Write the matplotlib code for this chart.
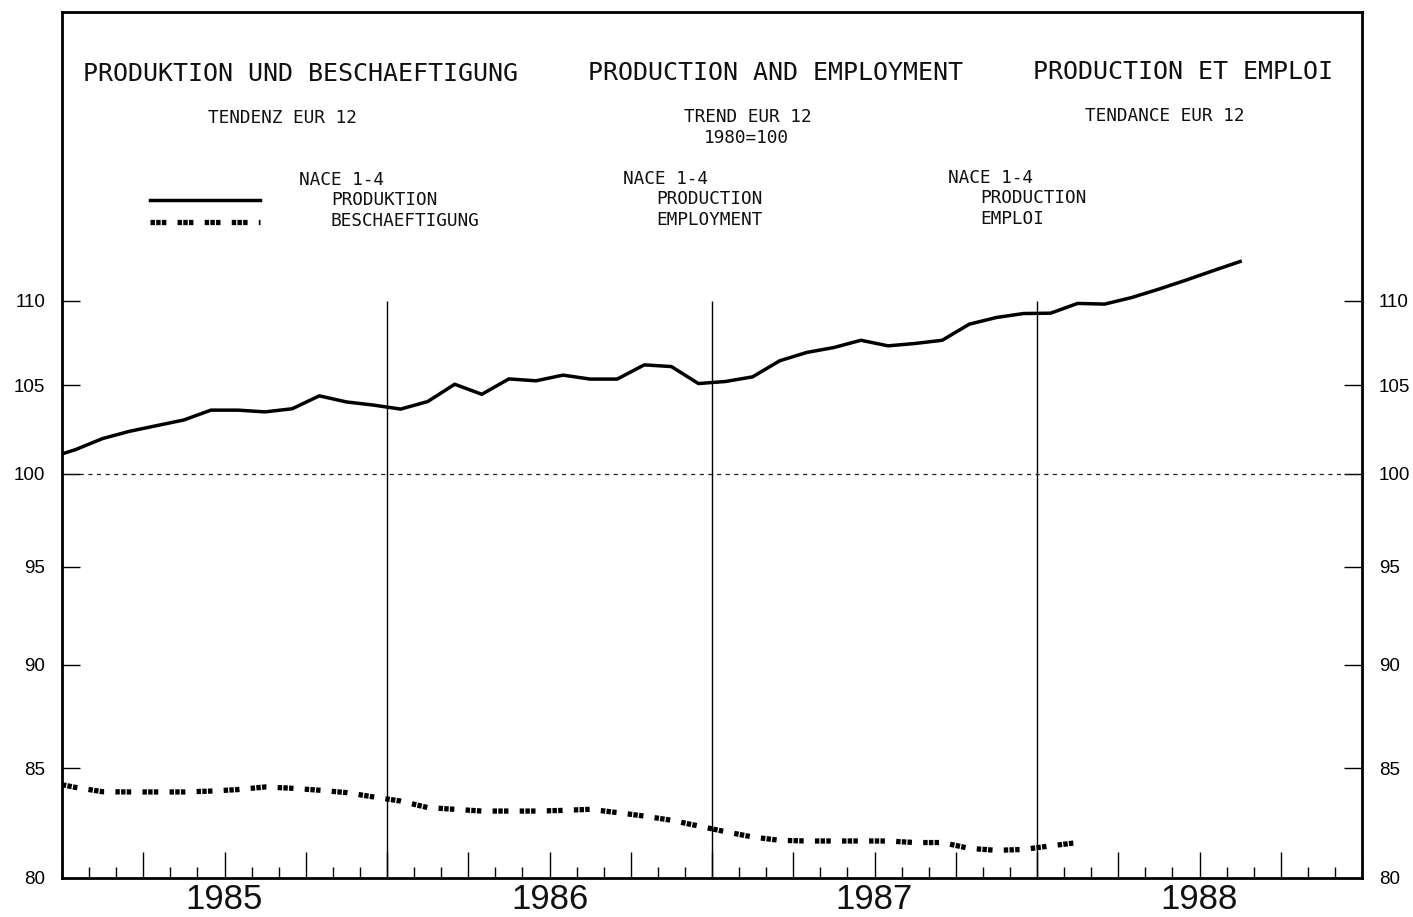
import matplotlib
matplotlib.use("Agg")
import matplotlib.pyplot as plt
import matplotlib.transforms as mtransforms
from matplotlib.lines import Line2D
from matplotlib.ticker import NullLocator, FixedLocator
import numpy as np

plt.rcParams["lines.scale_dashes"] = False

# ---------------- data (monthly trend, 1980=100) ----------------
# first value = Dec 1984, then Jan 1985 ... Aug 1988
production = [100.85,
              101.33, 101.95, 102.36, 102.68, 103.00, 103.56, 103.56, 103.46, 103.64, 104.38, 104.03, 103.85,
              103.62, 104.05, 105.05, 104.47, 105.36, 105.25, 105.58, 105.35, 105.35, 106.18, 106.08, 105.09,
              105.21, 105.48, 106.42, 106.91, 107.20, 107.63, 107.30, 107.44, 107.63, 108.59, 108.99, 109.23,
              109.25, 109.84, 109.80, 110.20, 110.71, 111.26, 111.84, 112.41]
# first value = Dec 1984, then Jan 1985 ... Feb 1988
employment = [84.35,
              84.10, 83.90, 83.89, 83.89, 83.89, 83.93, 84.00, 84.12, 84.06, 83.97, 83.86, 83.66,
              83.47, 83.17, 83.09, 83.01, 83.01, 83.01, 83.04, 83.09, 82.94, 82.78, 82.59, 82.33,
              82.07, 81.83, 81.68, 81.65, 81.65, 81.65, 81.65, 81.58, 81.58, 81.32, 81.23, 81.27,
              81.43, 81.58]
years = ["1985", "1986", "1987", "1988"]
yticks = [80, 85, 90, 95, 100, 105, 110]
ytick_labels = ["80", "85", "90", "95", "100", "105", "110"]

# ---------------- figure ----------------
W, H = 1413, 917
fig = plt.figure(figsize=(W / 100, H / 100), dpi=100)
fig.patch.set_facecolor("white")
ax = fig.add_axes([62 / W, (H - 878) / H, (1362 - 62) / W, (878 - 12) / H])

x_prod = np.arange(len(production)) - 0.5
x_emp = np.arange(len(employment)) - 0.5

ax.plot(x_prod, production, color="black", lw=2.5, solid_joinstyle="round")

emp_seq = (3.2, 0.9, 3.2, 0.9, 3.2, 8.1)
ax.plot(x_emp, employment, color="black", lw=3.8, dash_capstyle="butt",
        linestyle=(9.7, emp_seq))

# reference lines
ax.axhline(100, color="#222222", lw=0.9, ls=(0, (3.0, 3.2)))
ax.vlines([12, 24, 36], 80, 110, color="black", lw=1.0)

ax.set_yscale("log")
ax.set_xlim(0, 48)
ax.set_ylim(80, 129)

ax.yaxis.set_major_locator(FixedLocator(yticks))
ax.yaxis.set_minor_locator(NullLocator())
ax.set_yticklabels(ytick_labels)
ax.tick_params(axis="y", which="major", direction="in", length=13, width=1.0,
               left=True, right=True, labelleft=True, labelright=True, pad=12,
               labelsize=13.5, colors="black")
for t in ax.yaxis.get_major_ticks():
    t.label1.set_family("Liberation Sans")
    t.label2.set_family("Liberation Sans")

ax.xaxis.set_major_locator(FixedLocator(np.arange(0, 49, 3)))
ax.xaxis.set_minor_locator(FixedLocator(np.arange(0, 49, 1)))
ax.tick_params(axis="x", which="major", direction="in", length=19, width=1.0,
               labelbottom=False, bottom=True, top=False)
ax.tick_params(axis="x", which="minor", direction="in", length=8, width=1.0,
               bottom=True, top=False)

for s in ax.spines.values():
    s.set_linewidth(2.0)
    s.set_color("black")

# year labels: baseline placed so the text box stays inside the canvas
year_base = fig.transFigure.inverted().transform((0, H - 909))[1]
trans = mtransforms.blended_transform_factory(ax.transData, fig.transFigure)
for i, yr in enumerate(years):
    ax.text(6 + 12 * i, year_base, yr, transform=trans, ha="center", va="baseline",
            fontsize=25, family="Liberation Sans", color="#111111")

# ---------------- header texts ----------------
def ftext(s, x, yc, size):
    cap = 0.729 * size * 100 / 72
    fig.text(x / W, 1 - (yc + cap / 2) / H, s, ha="left", va="baseline",
             fontsize=size, family="DejaVu Sans Mono", color="#111111")

titles = [("PRODUKTION UND BESCHAEFTIGUNG", 83, 72),
          ("PRODUCTION AND EMPLOYMENT", 588, 71),
          ("PRODUCTION ET EMPLOI", 1033, 70)]
for s, x, y in titles:
    ftext(s, x, y, 18)

subs = [("TENDENZ EUR 12", 208, 117), ("TREND EUR 12", 684, 116), ("1980=100", 704, 137),
        ("TENDANCE EUR 12", 1085, 115),
        ("NACE 1-4", 299, 179), ("PRODUKTION", 331, 199), ("BESCHAEFTIGUNG", 331, 220),
        ("NACE 1-4", 623, 178), ("PRODUCTION", 656, 198), ("EMPLOYMENT", 656, 219),
        ("NACE 1-4", 948, 177), ("PRODUCTION", 980, 197), ("EMPLOI", 980, 218)]
for s, x, y in subs:
    ftext(s, x, y, 12.8)

# legend keys
fig.add_artist(Line2D([150 / W, 260 / W], [1 - 200 / H, 1 - 200 / H], color="black", lw=2.5))
fig.add_artist(Line2D([150 / W, 260 / W], [1 - 222 / H, 1 - 222 / H], color="black", lw=3.8,
                      dash_capstyle="butt", linestyle=(0, emp_seq)))

fig.savefig("out.png", dpi=100, facecolor="white")
